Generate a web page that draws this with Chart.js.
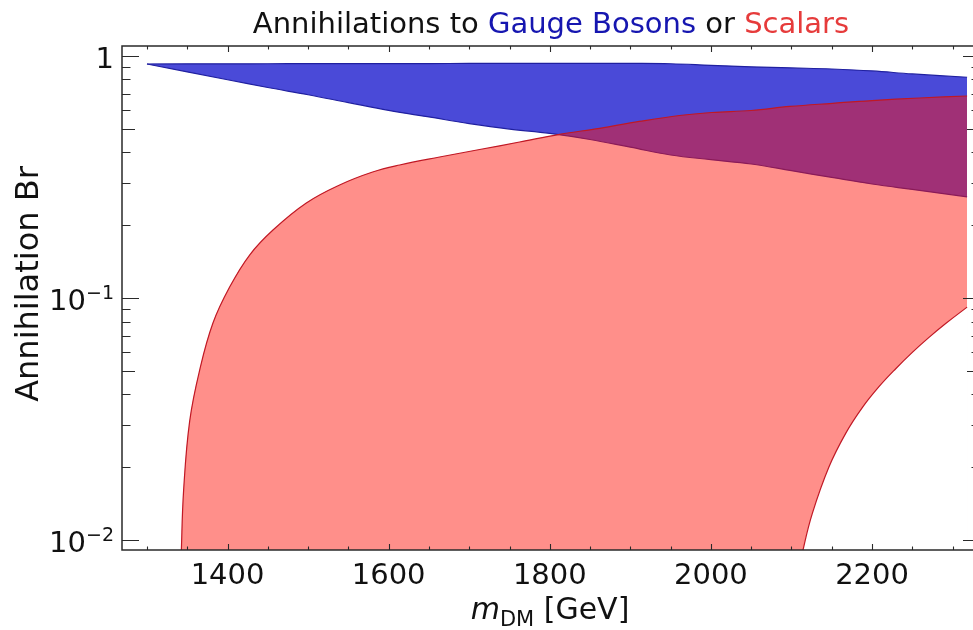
<!DOCTYPE html>
<html>
<head>
<meta charset="utf-8">
<script src="https://cdn.jsdelivr.net/npm/chart.js@4"></script>
<style>
  html, body { margin: 0; padding: 0; background: #fff; overflow: hidden; }
  #wrap { width: 985px; height: 630px; }
</style>
</head>
<body>
<div id="wrap"><canvas id="chart" width="985" height="630"></canvas></div>
<script>
// Branching-ratio bands versus dark-matter mass (GeV)

// Gauge-boson band: upper and lower edges on a shared mass grid
const gaugeMass  = [1300, 1400, 1450, 1500, 1550, 1600, 1650, 1700, 1750, 1800, 1850, 1900, 1950, 2000, 2050, 2100, 2150, 2200, 2250, 2318];
const gaugeUpper = [0.927, 0.928, 0.929, 0.930, 0.930, 0.931, 0.931, 0.932, 0.932, 0.932, 0.932, 0.932, 0.929, 0.915, 0.902, 0.893, 0.884, 0.868, 0.843, 0.817];
const gaugeLower = [0.927, 0.798, 0.741, 0.692, 0.642, 0.596, 0.560, 0.526, 0.499, 0.479, 0.452, 0.420, 0.390, 0.373, 0.358, 0.336, 0.315, 0.296, 0.281, 0.262];

// Scalar band: upper edge
const scalarUpperMass = [1341.4, 1342.7, 1345.5, 1353, 1365.4, 1381.9, 1402.6, 1427.4, 1456.4, 1497.8, 1539.1, 1580.1, 1613.6, 1663.2, 1712.9, 1762.5, 1812.2, 1862, 1911, 1961, 2001, 2050, 2098, 2151, 2200, 2259, 2318];
const scalarUpper     = [0.00599, 0.0091, 0.01609, 0.03103, 0.05042, 0.07882, 0.111, 0.1506, 0.191, 0.247, 0.2931, 0.3316, 0.3545, 0.3825, 0.4108, 0.4412, 0.4748, 0.5028, 0.5366, 0.5679, 0.5843, 0.5956, 0.6188, 0.6378, 0.6548, 0.6707, 0.6836];

// Scalar band: lower edge
const scalarLowerMass = [2113.1, 2114.4, 2125.9, 2146.6, 2167.3, 2187.9, 2208.6, 2229.4, 2250, 2270.7, 2291.4, 2318];
const scalarLower     = [0.00843, 0.00913, 0.0129, 0.02009, 0.02761, 0.03526, 0.04302, 0.05105, 0.05963, 0.06877, 0.07846, 0.09173];

// Axis ticks and labels
const xMajorTicks = [1400, 1600, 1800, 2000, 2200];
const xTickLabels = ['1400', '1600', '1800', '2000', '2200'];
const yMajorTicks = [1, 0.1, 0.01];
const yTickBase   = ['1', '10', '10'];
const yTickExp    = ['', '\u22121', '\u22122'];

const titleParts  = ['Annihilations to ', 'Gauge Bosons', ' or ', 'Scalars'];
const titleColors = ['#111111', '#1616b0', '#111111', '#e63b3b'];

const FONT = "'DejaVu Sans', sans-serif";
const BLUE_FILL = 'rgb(74, 74, 216)';
const BLUE_EDGE = 'rgb(32, 32, 160)';
const RED_FILL  = 'rgba(255, 20, 10, 0.48)';
const RED_EDGE  = 'rgb(192, 24, 36)';

const toPoints = (mass, br) => mass.map((m, i) => ({x: m, y: br[i]}));

function edge(label, mass, br, color, fill, fillColor, order) {
  return {
    label, data: toPoints(mass, br), order,
    fill, backgroundColor: fillColor,
    borderColor: color, borderWidth: 1.2,
    pointRadius: 0, tension: 0.4
  };
}

const decorations = {
  id: 'decorations',
  afterDatasetsDraw(chart) {
    const {ctx, chartArea: a, scales: {x, y}} = chart;
    ctx.save();
    ctx.strokeStyle = '#2a2a2a';
    ctx.lineWidth = 1.1;
    ctx.beginPath();
    // x ticks every 50 GeV, longer at labelled values (bottom and top, pointing inward)
    for (let v = 1300; v <= 2300; v += 50) {
      const px = Math.round(x.getPixelForValue(v)) + 0.5;
      const len = xMajorTicks.includes(v) ? 6 : 3.5;
      ctx.moveTo(px, a.bottom); ctx.lineTo(px, a.bottom - len);
      ctx.moveTo(px, a.top);    ctx.lineTo(px, a.top + len);
    }
    // logarithmic y ticks (left and right, pointing inward)
    for (const dec of [0.001, 0.01, 0.1, 1]) {
      for (let k = 1; k <= 9; k++) {
        const v = dec * k;
        const py = y.getPixelForValue(v);
        if (py < a.top - 0.5 || py > a.bottom + 0.5) continue;
        const len = k === 1 ? 17 : (k === 5 ? 13 : 8.5);
        const yy = Math.round(py) + 0.5;
        ctx.moveTo(a.left, yy);  ctx.lineTo(a.left + len, yy);
        ctx.moveTo(a.right, yy); ctx.lineTo(a.right - len, yy);
      }
    }
    ctx.stroke();
    // frame
    ctx.lineWidth = 1.5;
    ctx.strokeRect(a.left, a.top, a.right - a.left, a.bottom - a.top);
    ctx.restore();
  },
  afterDraw(chart) {
    const {ctx, chartArea: a, scales: {y}} = chart;
    const cx = (a.left + a.right) / 2;
    ctx.save();
    ctx.textBaseline = 'alphabetic';
    ctx.textAlign = 'left';

    // title with coloured words
    ctx.font = '29px ' + FONT;
    const widths = titleParts.map(t => ctx.measureText(t).width);
    let tx = cx - widths.reduce((s, w) => s + w, 0) / 2;
    titleParts.forEach((t, i) => {
      ctx.fillStyle = titleColors[i];
      ctx.fillText(t, tx, 33);
      tx += widths[i];
    });

    // y tick labels: powers of ten
    ctx.fillStyle = '#111111';
    yMajorTicks.forEach((v, i) => {
      const py = y.getPixelForValue(v);
      const base = yTickBase[i], exp = yTickExp[i];
      ctx.font = '29px ' + FONT;
      const wb = ctx.measureText(base).width;
      ctx.font = '19px ' + FONT;
      const we = exp ? ctx.measureText(exp).width : 0;
      const right = 114;
      ctx.font = '29px ' + FONT;
      ctx.fillText(base, right - we - wb, py + 12);
      if (exp) {
        ctx.font = '19px ' + FONT;
        ctx.fillText(exp, right - we, py + 1);
      }
    });

    // y axis title
    ctx.save();
    ctx.translate(38, 284);
    ctx.rotate(-Math.PI / 2);
    ctx.font = '32px ' + FONT;
    ctx.textAlign = 'center';
    ctx.fillText('Annihilation Br', 0, 0);
    ctx.restore();

    // x axis title: italic m with subscript DM, then unit
    const partsX = [['m', 'italic 30px ' + FONT, 0], ['DM', '21px ' + FONT, 7], [' [GeV]', '30px ' + FONT, 0]];
    const wx = partsX.map(p => { ctx.font = p[1]; return ctx.measureText(p[0]).width; });
    let xx = cx - 1 - wx.reduce((s, w) => s + w, 0) / 2;
    partsX.forEach((p, i) => {
      ctx.font = p[1];
      ctx.fillText(p[0], xx, 619 + p[2]);
      xx += wx[i];
    });
    ctx.restore();
  }
};

new Chart(document.getElementById('chart'), {
  type: 'line',
  data: {
    datasets: [
      // gauge band: upper edge filled down to the lower edge (next dataset)
      edge('Gauge Bosons upper', gaugeMass, gaugeUpper, BLUE_EDGE, '+1', BLUE_FILL, 4),
      edge('Gauge Bosons lower', gaugeMass, gaugeLower, BLUE_EDGE, false, BLUE_FILL, 3),
      // scalar band: upper edge filled to the axis floor, area under the lower edge left blank
      edge('Scalars upper', scalarUpperMass, scalarUpper, RED_EDGE, 'start', RED_FILL, 2),
      edge('Scalars lower', scalarLowerMass, scalarLower, RED_EDGE, 'start', '#ffffff', 1)
    ]
  },
  options: {
    responsive: false,
    animation: false,
    events: [],
    layout: { padding: { top: 46, right: 5, left: 0, bottom: 0 } },
    plugins: { legend: { display: false }, tooltip: { enabled: false }, title: { display: false } },
    scales: {
      x: {
        type: 'linear',
        min: 1269,
        max: 2334,
        grid: { display: false, drawTicks: false },
        border: { display: false },
        ticks: {
          font: { family: FONT, size: 29 },
          color: '#111111',
          padding: 9,
          maxRotation: 0,
          autoSkip: false,
          callback: v => xTickLabels[xMajorTicks.indexOf(v)] ?? ''
        },
        afterBuildTicks: s => { s.ticks = xMajorTicks.map(v => ({ value: v })); },
        afterFit: s => { s.height = 80; }
      },
      y: {
        type: 'logarithmic',
        min: 0.0091,
        max: 1.1,
        grid: { display: false, drawTicks: false },
        border: { display: false },
        ticks: { display: false },
        afterFit: s => { s.width = 122; }
      }
    }
  },
  plugins: [decorations]
});
</script>
</body>
</html>
